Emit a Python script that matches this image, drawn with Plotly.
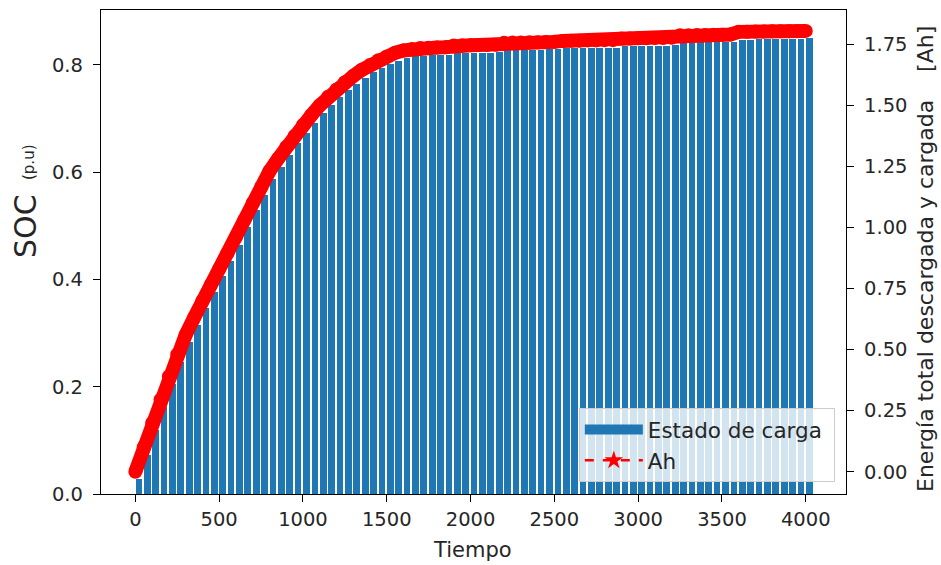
import plotly.graph_objects as go

# ---- data ----
tiempo = [0, 50, 100, 150, 200, 250, 300, 350, 400, 450, 500, 550, 600, 650, 700, 750,
          800, 850, 900, 950, 1000, 1050, 1100, 1150, 1200, 1250, 1300, 1350, 1400, 1450,
          1500, 1550, 1600, 1650, 1700, 1750, 1800, 1850, 1900, 1950, 2000, 2050, 2100,
          2150, 2200, 2250, 2300, 2350, 2400, 2450, 2500, 2550, 2600, 2650, 2700, 2750,
          2800, 2850, 2900, 2950, 3000, 3050, 3100, 3150, 3200, 3250, 3300, 3350, 3400,
          3450, 3500, 3550, 3600, 3650, 3700, 3750, 3800, 3850, 3900, 3950, 4000]

soc = [0.028, 0.073, 0.119, 0.162, 0.205, 0.246, 0.283, 0.315, 0.347, 0.376, 0.406,
       0.435, 0.465, 0.497, 0.529, 0.558, 0.588, 0.610, 0.633, 0.654, 0.674, 0.692,
       0.711, 0.726, 0.740, 0.754, 0.765, 0.776, 0.786, 0.795, 0.802, 0.808, 0.813,
       0.816, 0.817, 0.818, 0.818, 0.819, 0.822, 0.823, 0.823, 0.823, 0.823, 0.824,
       0.827, 0.828, 0.828, 0.828, 0.828, 0.829, 0.829, 0.831, 0.831, 0.831, 0.832,
       0.832, 0.832, 0.832, 0.835, 0.835, 0.836, 0.836, 0.836, 0.836, 0.837, 0.841,
       0.841, 0.842, 0.842, 0.842, 0.842, 0.842, 0.847, 0.847, 0.848, 0.848, 0.848,
       0.848, 0.849, 0.849, 0.850]

ah = [0.00, 0.10, 0.20, 0.295, 0.39, 0.48, 0.56, 0.63, 0.70, 0.765, 0.83, 0.895, 0.96,
      1.03, 1.10, 1.165, 1.23, 1.28, 1.33, 1.375, 1.42, 1.46, 1.50, 1.535, 1.565, 1.595,
      1.62, 1.645, 1.665, 1.685, 1.70, 1.715, 1.725, 1.731, 1.735, 1.736, 1.737, 1.738,
      1.745, 1.746, 1.746, 1.747, 1.747, 1.748, 1.756, 1.757, 1.757, 1.758, 1.758, 1.759,
      1.760, 1.764, 1.765, 1.765, 1.766, 1.766, 1.767, 1.767, 1.774, 1.774, 1.775, 1.775,
      1.776, 1.776, 1.777, 1.787, 1.787, 1.788, 1.788, 1.789, 1.789, 1.790, 1.801, 1.801,
      1.802, 1.802, 1.803, 1.803, 1.804, 1.804, 1.805]

x_ticks = [0, 500, 1000, 1500, 2000, 2500, 3000, 3500, 4000]

BLUE = "#1f77b4"
RED = "#ff0000"
FONT = "DejaVu Sans"
TXT = "#262626"

fig = go.Figure()

fig.add_trace(go.Bar(
    x=tiempo, y=soc, width=40, offset=1,
    marker=dict(color=BLUE, line=dict(width=0)),
    name="Estado de carga", yaxis="y", showlegend=False,
))

# thick band made of the dense star markers in the original
fig.add_trace(go.Scatter(
    x=tiempo, y=ah, yaxis="y2", mode="lines+markers",
    line=dict(color=RED, width=14),
    marker=dict(color=RED, size=14),
    showlegend=False, hoverinfo="skip",
))

# legend entries
fig.add_trace(go.Scatter(
    x=[None], y=[None], yaxis="y", mode="lines",
    line=dict(color=BLUE, width=16),
    name="Estado de carga\u00a0",
))
fig.add_trace(go.Scatter(
    x=[None], y=[None], yaxis="y2", mode="lines+markers",
    line=dict(color=RED, width=2.5, dash="dash"),
    marker=dict(color=RED, symbol="star", size=14),
    name="Ah",
))

axis_common = dict(
    showgrid=False, zeroline=False, showline=True, linecolor="black", linewidth=1.4,
    ticks="outside", ticklen=7, tickwidth=1.3, tickcolor="black",
    tickfont=dict(family=FONT, size=19.5, color=TXT),
)

fig.update_layout(
    width=941, height=565, autosize=False,
    margin=dict(l=101, r=95, t=10, b=71),
    paper_bgcolor="white", plot_bgcolor="white",
    font=dict(family=FONT, color=TXT),
    bargap=0,
    xaxis=dict(range=[-205, 4240], tickvals=x_ticks, mirror=True, **axis_common),
    yaxis=dict(range=[0, 0.9025], tick0=0, dtick=0.2, tickformat=".1f",
               ticklabelstandoff=6, **axis_common),
    yaxis2=dict(range=[-0.0913, 1.8905], tick0=0, dtick=0.25, tickformat=".2f",
                overlaying="y", side="right", ticklabelstandoff=6, **axis_common),
    legend=dict(
        x=0.985, y=0.025, xanchor="right", yanchor="bottom",
        bgcolor="rgba(255,255,255,0.8)", bordercolor="#cccccc", borderwidth=1,
        font=dict(family=FONT, size=21.5, color=TXT),
        itemwidth=58, tracegroupgap=0,
    ),
    showlegend=True,
    annotations=[
        dict(text="Tiempo", x=0.4993, y=-0.1157, xref="paper", yref="paper",
             xanchor="center", yanchor="middle", showarrow=False,
             font=dict(family=FONT, size=21, color=TXT)),
        dict(text="SOC", x=-0.1013, y=0.5527, xref="paper", yref="paper",
             xanchor="center", yanchor="middle", showarrow=False, textangle=-90,
             font=dict(family=FONT, size=30, color=TXT)),
        dict(text="(p.u)", x=-0.0966, y=0.686, xref="paper", yref="paper",
             xanchor="center", yanchor="middle", showarrow=False, textangle=-90,
             font=dict(family=FONT, size=15, color=TXT)),
        dict(text="Energía total descargada y cargada\u00a0\u00a0\u00a0\u00a0[Ah]",
             x=1.106, y=0.4855, xref="paper", yref="paper",
             xanchor="center", yanchor="middle", showarrow=False, textangle=-90,
             font=dict(family=FONT, size=22, color=TXT)),
    ],
)

fig.write_html("out.html", config={"displayModeBar": False},
               post_script="document.body.style.margin='0';document.body.style.padding='0';")
